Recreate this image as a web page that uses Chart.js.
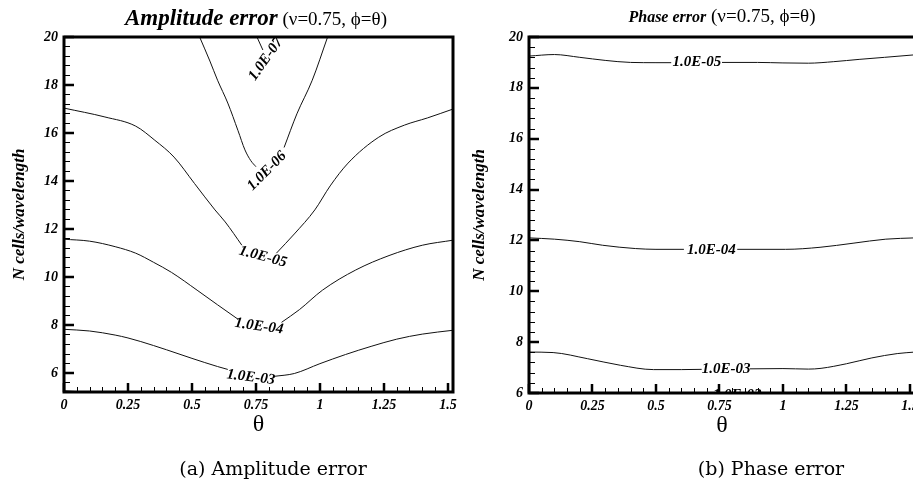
<!DOCTYPE html>
<html>
<head>
<meta charset="utf-8">
<script src="https://cdn.jsdelivr.net/npm/chart.js@4.4.0/dist/chart.umd.min.js"></script>
<style>
html, body { margin: 0; padding: 0; width: 913px; height: 483px; overflow: hidden; background: #fff; }
.panel { position: absolute; top: 0; width: 460px; height: 483px; }
.txt { position: absolute; transform: translate(-50%, -50%); white-space: nowrap; font-family: "Liberation Serif", serif; color: #000; }
.cap { font-family: "DejaVu Serif", serif; }
.bi { font-weight: bold; font-style: italic; }
</style>
</head>
<body>
<div class="panel" style="left:0"><canvas id="ampChart" width="460" height="483"></canvas></div>
<div class="panel" style="left:460px"><canvas id="phaseChart" width="460" height="483"></canvas></div>

<div class="txt" style="left:256px; top:18px; font-size:19px"><span class="bi" style="font-size:23px">Amplitude error</span> (ν=0.75, ϕ=θ)</div>
<div class="txt" style="left:722px; top:16px; font-size:19px"><span class="bi" style="font-size:16px">Phase error</span> (ν=0.75, ϕ=θ)</div>
<div class="txt cap" style="left:273px; top:468px; font-size:19px">(a) Amplitude error</div>
<div class="txt cap" style="left:771px; top:468px; font-size:19px">(b) Phase error</div>

<script>
// tick labels
const xTicks = [0, 0.25, 0.5, 0.75, 1, 1.25, 1.5];
const yTicks = [6, 8, 10, 12, 14, 16, 18, 20];
const thetaMax = 1.52;

// amplitude error contours, [theta, N] pairs, one array per visible piece
const ampE2 = [[0, 5.27], [0.06, 5.23]];
const ampE3a = [[0, 7.83], [0.1, 7.76], [0.2, 7.59], [0.25, 7.47], [0.3, 7.32], [0.4, 6.98], [0.5, 6.62], [0.6, 6.28], [0.64, 6.16]];
const ampE3b = [[0.82, 5.87], [0.9, 5.99], [1.0, 6.4], [1.1, 6.78], [1.2, 7.12], [1.3, 7.42], [1.4, 7.63], [1.52, 7.79]];
const ampE4a = [[0, 11.58], [0.1, 11.5], [0.2, 11.27], [0.28, 11.0], [0.35, 10.62], [0.42, 10.2], [0.52, 9.46], [0.6, 8.85], [0.68, 8.25]];
const ampE4b = [[0.85, 8.12], [0.92, 8.65], [1.01, 9.46], [1.14, 10.3], [1.27, 10.9], [1.4, 11.33], [1.52, 11.54]];
const ampE5a = [[0, 17.04], [0.16, 16.67], [0.28, 16.29], [0.355, 15.7], [0.43, 15.0], [0.51, 13.9], [0.59, 12.8], [0.63, 12.3], [0.695, 11.33]];
const ampE5b = [[0.83, 11.0], [0.9, 11.8], [0.98, 12.8], [1.04, 13.8], [1.11, 14.75], [1.23, 15.83], [1.33, 16.33], [1.42, 16.63], [1.52, 17.0]];
const ampE6a = [[0.53, 20], [0.57, 19.0], [0.6, 18.2], [0.64, 17.25], [0.68, 16.1], [0.707, 15.3], [0.73, 14.85], [0.75, 14.6]];
const ampE6b = [[0.86, 15.4], [0.91, 16.8], [0.97, 18.2], [1.03, 20]];
const ampE7 = [[0.754, 20], [0.777, 19.46]];
const ampLabels = ['1.0E-03', '1.0E-04', '1.0E-05', '1.0E-06', '1.0E-07'];
const ampLabelAt = [[0.73, 5.83], [0.762, 7.95], [0.777, 10.85], [0.793, 14.42], [0.789, 19.08]];

// phase error contours
const phsE3a = [[0, 7.61], [0.095, 7.59], [0.23, 7.35], [0.36, 7.09], [0.49, 6.92], [0.6, 6.92], [0.68, 6.93]];
const phsE3b = [[0.87, 6.95], [1.0, 6.96], [1.1, 6.94], [1.15, 6.97], [1.25, 7.15], [1.35, 7.38], [1.45, 7.55], [1.52, 7.61]];
const phsE4a = [[0, 12.1], [0.1, 12.05], [0.2, 11.95], [0.29, 11.81], [0.42, 11.68], [0.5, 11.65], [0.61, 11.65]];
const phsE4b = [[0.82, 11.65], [1.01, 11.65], [1.146, 11.73], [1.276, 11.89], [1.405, 12.05], [1.52, 12.1]];
const phsE5a = [[0, 19.25], [0.1, 19.31], [0.2, 19.2], [0.3, 19.08], [0.4, 19.0], [0.5, 18.99], [0.56, 18.99]];
const phsE5b = [[0.76, 19.0], [0.9, 19.0], [1.0, 18.98], [1.1, 18.97], [1.2, 19.03], [1.3, 19.12], [1.4, 19.2], [1.52, 19.3]];
const phsLabels = ['1.0E-02', '1.0E-03', '1.0E-04', '1.0E-05'];
const phsLabelAt = [[0.82, 5.9], [0.776, 6.93], [0.718, 11.62], [0.661, 19.02]];

const serif = '"Liberation Serif", "Times New Roman", serif';

function minorTicks(from, to, step, majors) {
    const out = [];
    for (let v = from; v <= to + 1e-9; v += step) {
        const r = Math.round(v * 1000) / 1000;
        if (!majors.some(m => Math.abs(m - r) < 1e-6)) out.push(r);
    }
    return out;
}

const frame = {
    id: 'frame',
    afterDraw(chart, args, opts) {
        const { ctx, chartArea: a } = chart;
        const x = chart.scales.x, y = chart.scales.y;
        ctx.save();
        ctx.strokeStyle = '#000';
        ctx.lineWidth = 1;
        ctx.beginPath();
        opts.xMinor.forEach(v => {
            const p = Math.round(x.getPixelForValue(v)) + 0.5;
            ctx.moveTo(p, a.bottom); ctx.lineTo(p, a.bottom - 5);
        });
        opts.yMinor.forEach(v => {
            const p = Math.round(y.getPixelForValue(v)) + 0.5;
            ctx.moveTo(a.left, p); ctx.lineTo(a.left + 6, p);
        });
        ctx.stroke();
        ctx.lineWidth = 2.5;
        ctx.beginPath();
        xTicks.forEach(v => {
            const p = Math.round(x.getPixelForValue(v));
            ctx.moveTo(p, a.bottom); ctx.lineTo(p, a.bottom - 9);
        });
        yTicks.forEach(v => {
            if (v < y.min) return;
            const p = Math.round(y.getPixelForValue(v));
            ctx.moveTo(a.left, p); ctx.lineTo(a.left + 10, p);
        });
        ctx.stroke();
        ctx.lineWidth = 3;
        ctx.strokeRect(a.left, a.top, a.right - a.left, a.bottom - a.top);
        ctx.restore();
    }
};

const contourLabels = {
    id: 'contourLabels',
    afterDatasetsDraw(chart, args, opts) {
        const { ctx, chartArea: a } = chart;
        const x = chart.scales.x, y = chart.scales.y;
        ctx.save();
        ctx.beginPath();
        ctx.rect(a.left, a.top, a.right - a.left, a.bottom - a.top);
        ctx.clip();
        ctx.fillStyle = '#000';
        ctx.font = 'italic bold ' + opts.size + 'px ' + serif;
        ctx.textAlign = 'center';
        ctx.textBaseline = 'middle';
        opts.texts.forEach((t, i) => {
            ctx.save();
            ctx.translate(x.getPixelForValue(opts.at[i][0]), y.getPixelForValue(opts.at[i][1]));
            ctx.rotate(opts.angles[i] * Math.PI / 180);
            ctx.fillText(t, 0, 0);
            ctx.restore();
        });
        ctx.restore();
    }
};

function makeChart(id, pieces, yMin, box, labelOpts) {
    const datasets = pieces.map(p => ({
        data: p.map(d => ({ x: d[0], y: d[1] })),
        showLine: true,
        borderColor: '#111',
        borderWidth: 1,
        pointRadius: 0,
        cubicInterpolationMode: 'monotone'
    }));
    const tickFont = { family: serif, size: 14, style: 'italic', weight: 'bold' };
    return new Chart(document.getElementById(id), {
        type: 'scatter',
        data: { datasets },
        options: {
            responsive: false,
            animation: false,
            devicePixelRatio: 1,
            layout: { padding: { left: 0, top: 37, right: box.right, bottom: box.bottom } },
            plugins: {
                legend: { display: false },
                tooltip: { enabled: false },
                frame: {
                    xMinor: minorTicks(0, thetaMax, 0.05, xTicks),
                    yMinor: minorTicks(yMin, 20, 0.4, yTicks).filter(v => (Math.round((20 - v) * 10) % 4) === 0)
                },
                contourLabels: labelOpts
            },
            scales: {
                x: {
                    type: 'linear', min: 0, max: thetaMax,
                    grid: { display: false, drawTicks: false },
                    border: { display: false },
                    afterBuildTicks: s => { s.ticks = xTicks.map(v => ({ value: v })); },
                    afterFit: s => { s.height = 50; s.paddingLeft = 0; s.paddingRight = 0; },
                    ticks: { font: tickFont, color: '#000', padding: 5, maxRotation: 0, autoSkip: false, callback: v => String(v) },
                    title: { display: true, text: 'θ', color: '#000', font: { family: serif, size: 24 }, padding: { top: 0, bottom: 3 } }
                },
                y: {
                    type: 'linear', min: yMin, max: 20,
                    grid: { display: false, drawTicks: false },
                    border: { display: false },
                    afterBuildTicks: s => { s.ticks = yTicks.filter(v => v >= yMin).map(v => ({ value: v })); },
                    afterFit: s => { s.width = box.left; s.paddingTop = 0; s.paddingBottom = 0; },
                    ticks: { font: tickFont, color: '#000', padding: 6, autoSkip: false, callback: v => String(v) },
                    title: { display: true, text: 'N cells/wavelength', color: '#000', font: { family: serif, size: 17, style: 'italic', weight: 'bold' }, padding: { top: 9, bottom: 0 } }
                }
            }
        },
        plugins: [frame, contourLabels]
    });
}

makeChart('ampChart',
    [ampE2, ampE3a, ampE3b, ampE4a, ampE4b, ampE5a, ampE5b, ampE6a, ampE6b, ampE7],
    5.22, { left: 64, right: 7, bottom: 41 },
    { texts: ampLabels, at: ampLabelAt, angles: [7, 8, 15, -45, -55], size: 15 });

makeChart('phaseChart',
    [phsE3a, phsE3b, phsE4a, phsE4b, phsE5a, phsE5b],
    6, { left: 69, right: 5, bottom: 40 },
    { texts: phsLabels, at: phsLabelAt, angles: [0, 0, 0, 0], size: 15 });
</script>
</body>
</html>
